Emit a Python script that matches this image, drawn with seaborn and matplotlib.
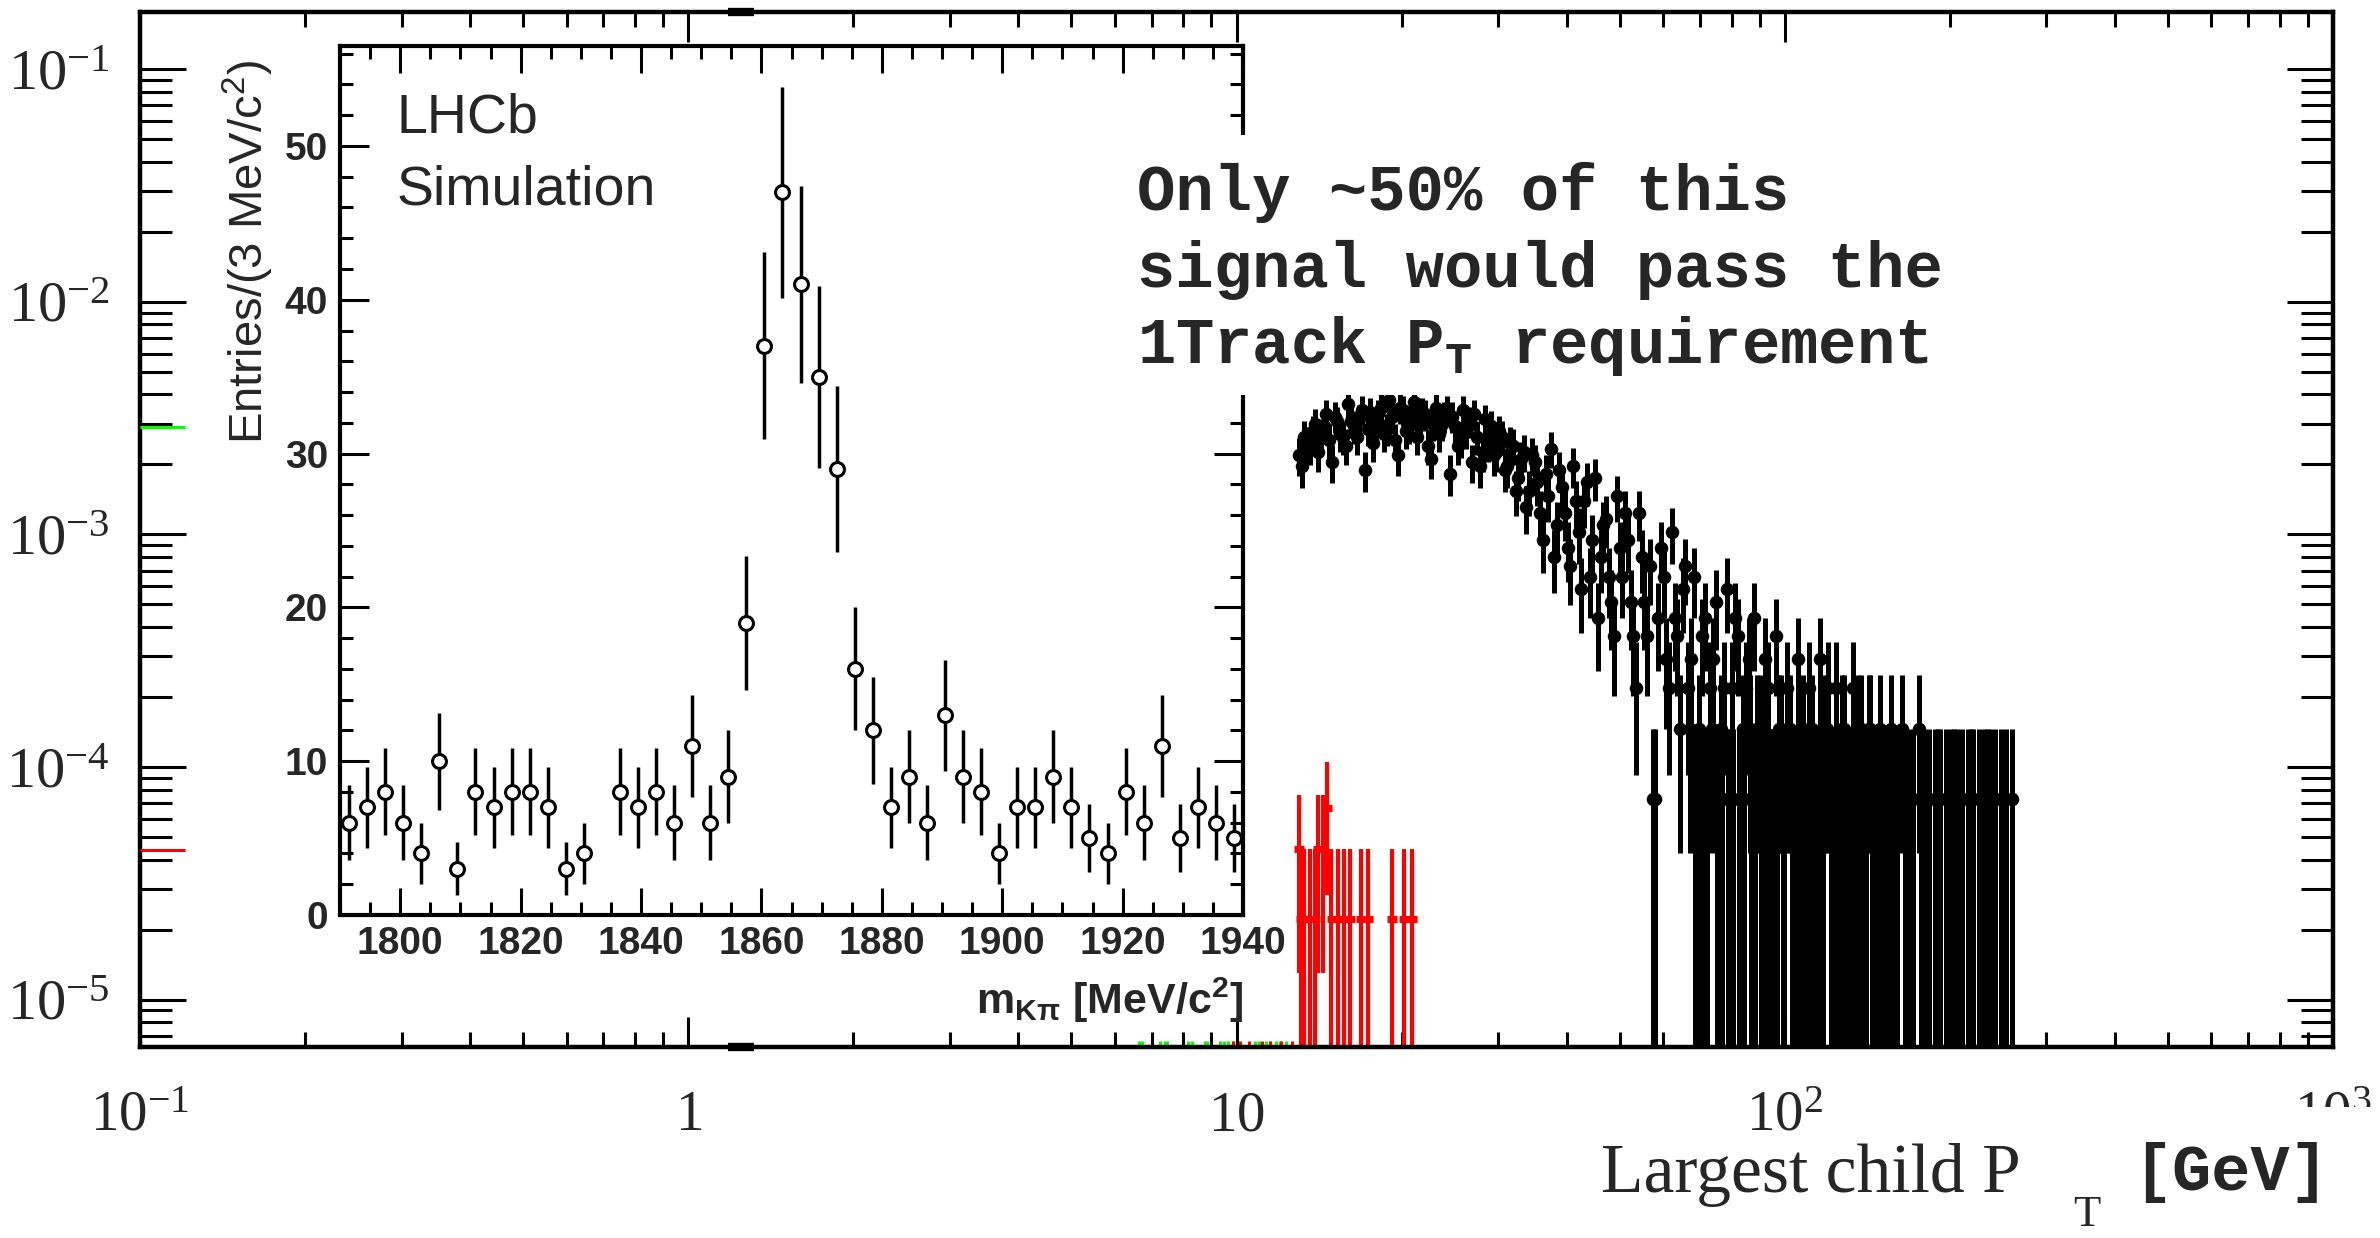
import numpy as np
import pandas as pd
import seaborn as sns
import matplotlib.pyplot as plt
from matplotlib.patches import Rectangle
from matplotlib.ticker import LogLocator, NullFormatter

# ---- main plot: largest child pT, overlaid black histograms (entries per bin)
pt_a = [13.00, 13.30, 13.61, 13.93, 14.25, 14.59, 14.93, 15.27, 15.63, 15.99,
        16.37, 16.75, 17.14, 17.54, 17.95, 18.36, 18.79, 19.23, 19.68, 20.13,
        20.60, 21.08, 21.57, 22.08, 22.59, 23.12, 23.66, 24.21, 24.77, 25.35,
        25.94, 26.54, 27.16, 27.79, 28.44, 29.10, 29.78, 30.47, 31.18, 31.91,
        32.65, 33.42, 34.19, 34.99, 35.80, 36.64, 37.49, 38.37, 39.26, 40.17,
        41.11, 42.07, 43.05, 44.05, 45.08, 46.13, 47.20, 48.30, 49.42, 50.58,
        51.75, 52.96, 54.19, 55.46, 56.75, 58.07, 59.42, 60.81, 62.22, 63.67,
        65.15, 66.67, 68.23, 69.81, 71.44, 73.10, 74.81, 76.55, 78.33, 80.16,
        82.02, 83.93, 85.89, 87.89, 89.94, 92.03, 94.18, 96.37, 98.62, 100.9,
        103.3, 105.7, 108.1, 110.6, 113.2, 115.9, 118.6, 121.3, 124.1, 127.0,
        130.0, 133.0, 136.1, 139.3, 142.5, 145.9, 149.3, 152.7, 156.3, 159.9,
        163.7, 167.5, 171.4, 175.4, 179.5, 183.6, 187.9, 192.3, 196.8, 201.3,
        206.0, 210.8, 215.7, 220.8, 225.9, 231.2, 236.6, 242.1, 247.7, 253.5,
        259.4]
n_a = [30, 36, 33, 41, 37, 45, 28, 42, 36, 50,
       40, 43, 26, 46, 41, 48, 39, 44, 30, 47,
       40, 51, 43, 45, 29, 48, 41, 47, 44, 33,
       47, 42, 45, 27, 43,
       40, 31, 36, 27, 33, 24, 31, 21, 28, 17,
       25, 32, 15, 22, 12, 27, 14, 19, 9, 24,
       11, 16, 7, 20, 9, 13, 5, 17, 7, 10,
       1, 12, 4, 14, 5, 8, 3, 9, 2, 6,
       3, 7, 2, 8, 3, 5, 2, 4, 6, 2,
       4, 1, 5, 2, 3, 1, 4, 2, 3, 1,
       4, 2, 1, 3, 2, 1, 3, 2, 1, 2,
       1, 2, 1, 2, 1, 2, 1, 1, 2, 1,
       1, 1, 1, 1, 1, 1, 1, 1, 1, 1,
       1, 1, 1, 1, 1, 1]

pt_b = [13.15, 13.45, 13.77, 14.09, 14.42, 14.76, 15.10, 15.45, 15.81, 16.18,
        16.56, 16.95, 17.34, 17.74, 18.15, 18.57, 19.01, 19.45, 19.90, 20.36,
        20.84, 21.32, 21.82, 22.33, 22.85, 23.39, 23.93, 24.49, 25.06, 25.64,
        26.24, 26.85, 27.47, 28.11, 28.77, 29.44, 30.12, 30.82, 31.54, 32.28,
        33.03, 33.80, 34.59, 35.39, 36.22, 37.06, 37.93, 38.81, 39.71, 40.64,
        41.59, 42.56, 43.55, 44.56, 45.60, 46.66, 47.75, 48.86, 50.00, 51.16,
        52.35, 53.57, 54.82, 56.10, 57.41, 58.74, 60.11, 61.51, 62.94, 64.41,
        65.91, 67.45, 69.02, 70.62, 72.27, 73.95, 75.68, 77.44, 79.24, 81.09,
        82.97, 84.91, 86.89, 88.91, 90.98, 93.10, 95.27, 97.49, 99.76, 102.1,
        104.5, 106.9, 109.4, 111.9, 114.5, 117.2, 120.0, 122.7, 125.6, 128.5,
        131.5, 134.6, 137.7, 140.9, 144.2, 147.6, 151.0, 154.5, 158.1, 165.6,
        177.4, 190.1, 203.6, 218.2, 233.9]
n_b = [27, 34, 38, 31, 40, 35, 44, 37, 33, 42,
       36, 47, 39, 34, 45, 37, 52, 35, 48, 38,
       43, 36, 46, 33, 41, 37, 44, 25, 40, 35,
       38, 28, 36, 31, 34,
       30, 38, 26, 34, 21, 29, 18, 30, 23, 13,
       20, 11, 26, 17, 10, 19, 8, 23, 13, 6,
       15, 9, 5, 12, 17, 7, 3, 11, 5, 1,
       6, 9, 3, 6, 2, 10, 4, 1, 5, 1,
       4, 1, 3, 1, 6, 1, 3, 1, 2, 1,
       3, 1, 2, 1, 2, 1, 1, 1, 2, 1,
       1, 3, 1, 1, 2, 1, 1, 2, 1, 1,
       1, 1, 1, 1,
       1, 1, 1, 1, 1, 1]

pt_c = [67.05, 68.62, 70.21, 71.85, 73.52, 75.24, 76.99, 78.78, 80.62, 82.49,
        84.41, 86.39, 88.40, 90.46, 92.56, 94.72, 96.93, 99.19, 101.5, 103.9,
        106.3, 108.7, 111.2, 113.9, 116.6, 119.3, 122.0, 124.8, 127.7, 130.8,
        133.8, 136.9, 140.1, 143.3, 146.7, 150.2, 153.6, 157.2]
n_c = [2, 1, 1, 1, 2, 1, 1, 1, 1, 1,
       1, 2, 1, 1, 1, 1, 1, 1, 2, 1,
       1, 1, 1, 1, 1, 2, 1, 1, 1, 1,
       1, 1, 1, 2, 1, 1, 1, 1]
black_unit = 7.3e-5   # normalised height of one entry

pt_red = [13.0, 13.1, 13.3, 13.6, 13.9, 14.1, 14.4, 14.6, 14.9, 15.3,
          15.7, 16.1, 16.9, 17.4, 19.2, 20.2, 20.9]
n_red = [2, 1, 1, 1, 1, 2, 2, 3, 1, 1, 1, 1, 1, 1, 1, 1, 1]
red_unit = 2.22e-5

# little bits poking up from below the frame
green_stub_pt = [6.65, 6.72, 7.25, 7.40, 7.47, 8.15, 8.30, 8.75, 8.83, 9.35,
                 9.50, 9.65, 9.85, 10.8, 11.0, 11.3, 11.5, 11.8, 12.0, 12.3]
red_stub_pt = [9.85, 10.15, 10.55, 11.15, 11.5, 12.05, 12.6]
stub_top = 6.6e-6
edge_levels = [2.9e-3, 4.4e-5]
edge_colors = ["#00ff00", "red"]
block_pt = [1.18, 1.32]

# ---- inset: m(K pi)
mass = [1791.5, 1794.5, 1797.5, 1800.5, 1803.5, 1806.5, 1809.5, 1812.5, 1815.5, 1818.5,
        1821.5, 1824.5, 1827.5, 1830.5, 1833.5, 1836.5, 1839.5, 1842.5, 1845.5, 1848.5,
        1851.5, 1854.5, 1857.5, 1860.5, 1863.5, 1866.5, 1869.5, 1872.5, 1875.5, 1878.5,
        1881.5, 1884.5, 1887.5, 1890.5, 1893.5, 1896.5, 1899.5, 1902.5, 1905.5, 1908.5,
        1911.5, 1914.5, 1917.5, 1920.5, 1923.5, 1926.5, 1929.5, 1932.5, 1935.5, 1938.5]
mass_counts = [6, 7, 8, 6, 4, 10, 3, 8, 7, 8,
               8, 7, 3, 4, 0, 8, 7, 8, 6, 11,
               6, 9, 19, 37, 47, 41, 35, 29, 16, 12,
               7, 9, 6, 13, 9, 8, 4, 7, 7, 9,
               7, 5, 4, 8, 6, 11, 5, 7, 6, 5]

sns.set_style("ticks")
plt.rcParams["font.family"] = ["Liberation Serif", "DejaVu Serif"]
SANS = ["Liberation Sans", "DejaVu Sans"]
MONO = ["Liberation Mono", "DejaVu Sans Mono"]

W, H = 2380, 1238
fig = plt.figure(figsize=(W / 100, H / 100), dpi=100)
fig.patch.set_facecolor("white")

ax = fig.add_axes([140 / W, (H - 1047) / H, 2193 / W, 1035 / H])
ax.set_xscale("log")
ax.set_yscale("log")

ylo, yhi = 6.25e-6, 0.1766

black = pd.DataFrame({"pt": pt_a + pt_b + pt_c, "n": n_a + n_b + n_c})
black["value"] = black["n"] * black_unit
black["err"] = np.sqrt(black["n"]) * black_unit
ax.vlines(black["pt"], np.clip(black["value"] - black["err"], 1e-9, None),
          black["value"] + black["err"], color="black", lw=3.6, zorder=2)
sns.scatterplot(data=black, x="pt", y="value", ax=ax, color="black", s=95,
                linewidth=0, zorder=3, legend=False)

red = pd.DataFrame({"pt": pt_red, "n": n_red})
red["value"] = red["n"] * red_unit
red["err"] = np.sqrt(red["n"]) * red_unit
ax.vlines(red["pt"], np.clip(red["value"] - red["err"], 1e-9, None),
          red["value"] + red["err"], color="red", lw=3.0, zorder=2)
ax.hlines(red["value"], red["pt"] / 1.021, red["pt"] * 1.021, color="red", lw=5, zorder=2)

ax.vlines(green_stub_pt, 1e-9, stub_top, color="#00ff00", lw=2.2, zorder=2)
ax.vlines(red_stub_pt, 1e-9, stub_top, color="red", lw=2.2, zorder=2)
ax.hlines(edge_levels, 0.1, 0.1208, colors=edge_colors, lw=2.2, zorder=4)
ax.hlines([ylo, yhi], block_pt[0], block_pt[1], color="black", lw=6, clip_on=False, zorder=4)

ax.set_xticks([0.1, 1, 10, 100, 1000],
              labels=[r"$\mathregular{10^{-1}}$", r"$\mathregular{1}$", r"$\mathregular{10}$",
                      r"$\mathregular{10^{2}}$", r"$\mathregular{10^{3}}$"])
ax.set_yticks([1e-5, 1e-4, 1e-3, 1e-2, 1e-1],
              labels=[r"$\mathregular{10^{-5}}$", r"$\mathregular{10^{-4}}$", r"$\mathregular{10^{-3}}$",
                      r"$\mathregular{10^{-2}}$", r"$\mathregular{10^{-1}}$"])
ax.xaxis.set_minor_locator(LogLocator(base=10, subs=np.arange(2, 10), numticks=50))
ax.yaxis.set_minor_locator(LogLocator(base=10, subs=np.arange(2, 10), numticks=50))
ax.xaxis.set_minor_formatter(NullFormatter())
ax.yaxis.set_minor_formatter(NullFormatter())
ax.set_xlim(0.1, 1000)
ax.set_ylim(ylo, yhi)
ax.set_xlabel("")
ax.set_ylabel("")
ax.tick_params(axis="both", which="both", direction="in", top=True, right=True,
               width=2.2, color="black")
ax.tick_params(axis="x", which="major", length=21.6, pad=60, labelsize=41)
ax.tick_params(axis="x", which="minor", length=10.8)
ax.tick_params(axis="y", which="major", length=33, pad=21.6, labelsize=42)
ax.tick_params(axis="y", which="minor", length=23)
for lab in ax.get_xticklabels():
    lab.set_verticalalignment("baseline")
for s in ax.spines.values():
    s.set_linewidth(3.2)
    s.set_color("black")

# ---- inset
ax_in = fig.add_axes([340 / W, (H - 915) / H, 903 / W, 869 / H])
ax_in.set_facecolor("white")
inset = pd.DataFrame({"mass": mass, "n": mass_counts})
inset = inset[inset["n"] > 0]
ax_in.vlines(inset["mass"], inset["n"] - np.sqrt(inset["n"]), inset["n"] + np.sqrt(inset["n"]),
             color="black", lw=2.5, zorder=2)
sns.scatterplot(data=inset, x="mass", y="n", ax=ax_in, marker="o", s=100,
                linewidth=2.2, zorder=3, legend=False)
pts = ax_in.collections[-1]
pts.set_facecolor("white")
pts.set_edgecolor("black")

ax_in.set_xlim(1790, 1940)
ax_in.set_ylim(0, 56.5)
ax_in.set_xticks([1800, 1820, 1840, 1860, 1880, 1900, 1920, 1940])
ax_in.set_xticks(np.arange(1790, 1941, 5), minor=True)
ax_in.set_yticks([0, 10, 20, 30, 40, 50])
ax_in.set_yticks(np.arange(0, 57, 2), minor=True)
ax_in.tick_params(axis="both", which="both", direction="in", top=True, right=True,
                  width=2.2, color="black", labelsize=28)
ax_in.tick_params(axis="x", which="major", length=19.4, pad=8)
ax_in.tick_params(axis="y", which="major", length=21, pad=8.6)
ax_in.tick_params(axis="both", which="minor", length=9.4)
for lab in ax_in.get_xticklabels() + ax_in.get_yticklabels():
    lab.set_fontfamily(SANS)
    lab.set_fontweight("bold")
for s in ax_in.spines.values():
    s.set_linewidth(3.0)
    s.set_color("black")

ax_in.set_ylabel(r"Entries/(3 MeV/c$^\mathregular{2}$)", fontsize=34, family=SANS, loc="top")
ax_in.yaxis.set_label_coords(-0.071, 0.984)
ax_in.set_xlabel(r"m$_\mathregular{K\pi}$ [MeV/c$^\mathregular{2}$]", fontsize=31,
                 family=SANS, fontweight="bold", loc="right")
ax_in.xaxis.set_label_coords(1.0, -0.07)
ax_in.text(0.063, 0.901, "LHCb", transform=ax_in.transAxes, fontsize=40, family=SANS,
           va="baseline")
ax_in.text(0.063, 0.818, "Simulation", transform=ax_in.transAxes, fontsize=40, family=SANS,
           va="baseline")

# ---- annotation box (white, covers the inset edge)
fig.patches.append(Rectangle((1125 / W, 1 - 395 / H), (1960 - 1125) / W, (395 - 135) / H,
                             transform=fig.transFigure, facecolor="white", edgecolor="none",
                             zorder=5))
for y_px, line in [(210, "Only ~50% of this"), (287, "signal would pass the"),
                   (363, r"1Track $\mathregular{P_T}$ requirement")]:
    fig.text(1137 / W, 1 - y_px / H, line, fontsize=46, family=MONO, fontweight="bold",
             va="baseline", ha="left", zorder=6)

# ---- x axis title
fig.patches.append(Rectangle((2270 / W, 0), 110 / W, (H - 1107) / H, transform=fig.transFigure,
                             facecolor="white", edgecolor="none", zorder=5))
fig.text(1601 / W, 1 - 1192 / H, "Largest child P", fontsize=50, va="baseline", ha="left", zorder=6)
fig.text(2073 / W, 1 - 1226 / H, "T", fontsize=32, va="baseline", ha="left", zorder=6)
fig.text(2133 / W, 1 - 1190 / H, "[GeV]", fontsize=47, family=MONO, fontweight="bold",
         va="baseline", ha="left", zorder=6)

fig.savefig("out.png", dpi=100)
